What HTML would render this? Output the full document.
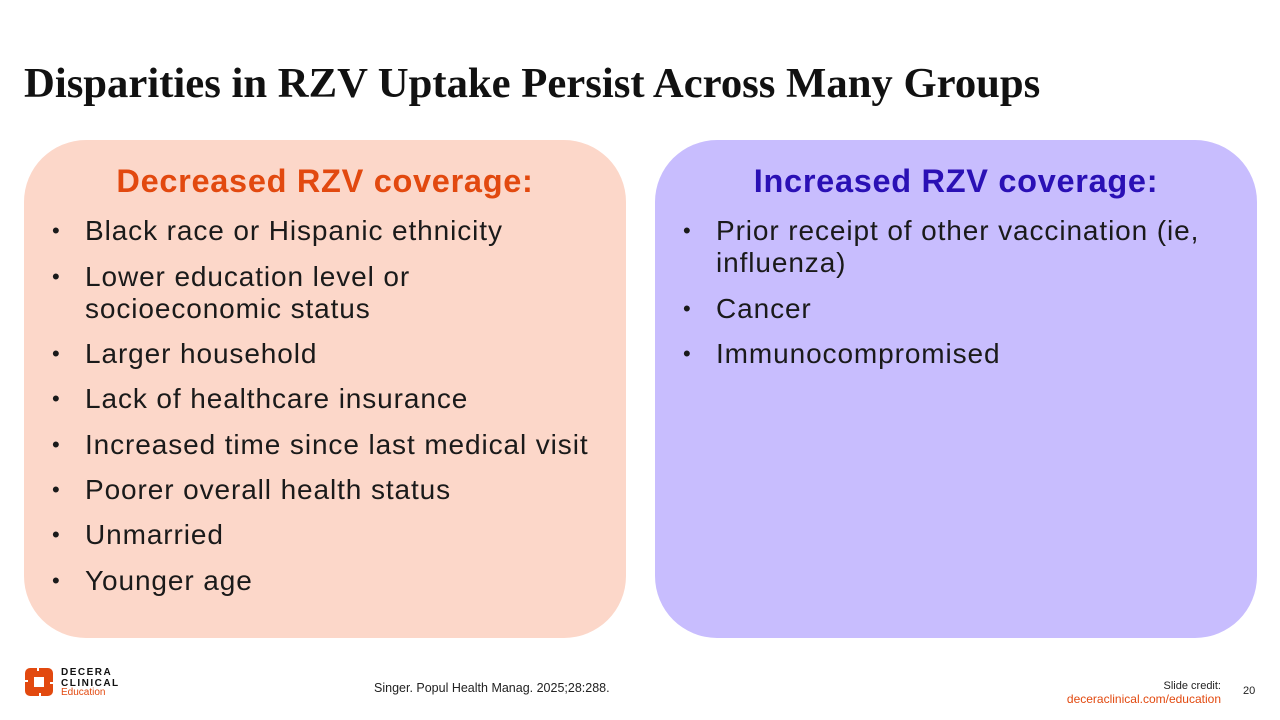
<!DOCTYPE html>
<html><head><style>
body{margin:0;width:1280px;height:720px;background:#fff;position:relative;overflow:hidden;font-family:"Liberation Sans",sans-serif;}
.t{position:absolute;left:24px;top:59px;font-family:"Liberation Serif",serif;font-weight:bold;font-size:42.7px;color:#111;white-space:nowrap;}
.box{position:absolute;top:140px;width:602px;height:498px;border-radius:62px;}
.h{position:absolute;top:23px;width:100%;text-align:center;font-weight:bold;font-size:32.5px;letter-spacing:0.7px;}
.it{position:absolute;left:61px;font-size:28px;line-height:32px;color:#1a1a1a;width:540px;letter-spacing:0.9px;}
.it:before{content:"•";position:absolute;left:-33px;font-size:22px;letter-spacing:0;}
</style></head><body>
<div class="t">Disparities in RZV Uptake Persist Across Many Groups</div>
<div class="box" style="left:24px;background:#fcd7c9;">
<div class="h" style="color:#e2490f;">Decreased RZV coverage:</div>
<div class="it" style="top:75px">Black race or Hispanic ethnicity</div>
<div class="it" style="top:121px">Lower education level or<br>socioeconomic status</div>
<div class="it" style="top:198px">Larger household</div>
<div class="it" style="top:243px">Lack of healthcare insurance</div>
<div class="it" style="top:289px">Increased time since last medical visit</div>
<div class="it" style="top:334px">Poorer overall health status</div>
<div class="it" style="top:379px">Unmarried</div>
<div class="it" style="top:425px">Younger age</div>
</div>
<div class="box" style="left:655px;background:#c8bdfe;">
<div class="h" style="color:#2a10b5;">Increased RZV coverage:</div>
<div class="it" style="top:75px">Prior receipt of other vaccination (ie,<br>influenza)</div>
<div class="it" style="top:153px">Cancer</div>
<div class="it" style="top:198px">Immunocompromised</div>
</div>
<svg style="position:absolute;left:25px;top:668px" width="28" height="28" viewBox="0 0 28 28">
<g fill="#e2490f"><rect x="0" y="0" width="28" height="28" rx="5"/></g>
<rect x="9" y="9" width="10" height="10" fill="#fff"/>
<rect x="0" y="12" width="3" height="2" fill="#fff"/><rect x="25" y="14" width="3" height="2" fill="#fff"/>
<rect x="12" y="0" width="2" height="3" fill="#fff"/><rect x="14" y="25" width="2" height="3" fill="#fff"/>
</svg>
<div style="position:absolute;left:61px;top:667px;font-size:10px;font-weight:bold;letter-spacing:1.5px;line-height:11px;color:#111;">DECERA<br>CLINICAL</div>
<div style="position:absolute;left:61px;top:687px;font-size:10px;color:#e2490f;line-height:11px;">Education</div>
<div style="position:absolute;left:374px;top:681px;font-size:12.5px;color:#222;">Singer. Popul Health Manag. 2025;28:288.</div>
<div style="position:absolute;right:59px;top:680px;font-size:11px;color:#222;text-align:right;line-height:13px;">Slide credit:<br><span style="color:#e2490f;font-size:12px;">deceraclinical.com/education</span></div>
<div style="position:absolute;left:1243px;top:685px;font-size:11px;color:#222;">20</div>
</body></html>
